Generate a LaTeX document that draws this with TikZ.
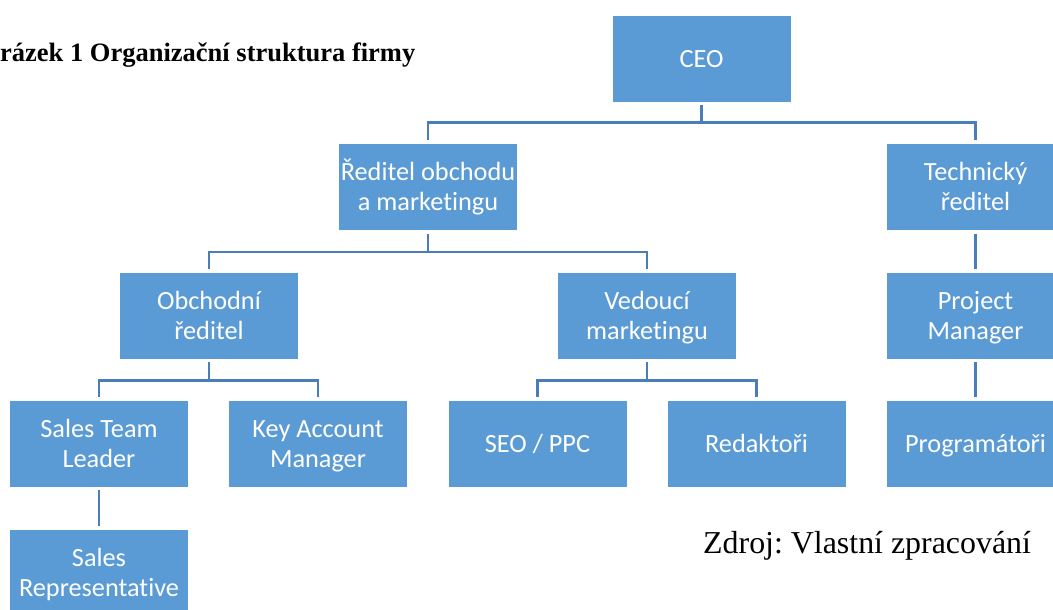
\documentclass[tikz,border=0pt]{standalone}
\usepackage{fontspec}
\setmainfont{Liberation Serif}
\newfontfamily\boxfont[Ligatures={NoCommon}]{Carlito}
\definecolor{boxblue}{HTML}{5B9BD5}
\definecolor{linkblue}{HTML}{4A7EBB}
\newcommand{\lnstrut}{\vphantom{Ág}}
\frenchspacing
\begin{document}
\begin{tikzpicture}[x=1pt,y=-1pt,
  orgbox/.style={rectangle, fill=boxblue, draw=white, line width=0.8pt,
    minimum width=179pt, minimum height=87pt, inner sep=0pt, text=white,
    align=center, font=\boxfont\fontsize{26.3}{30}\selectfont},
  conn/.style={draw=linkblue, line width=2.4pt, shorten <=3pt, shorten >=3pt},
  caption/.style={anchor=base west, inner sep=0pt, text=black}]
\useasboundingbox (0,0) rectangle (1053,610);

\node[orgbox] (ceo)  at (701.5,58.5) {\lnstrut CEO};
\node[orgbox] (red)  at (428,187) {\lnstrut Ředitel obchodu\\\lnstrut a marketingu};
\node[orgbox] (tech) at (975.5,187) {\lnstrut Technický\\\lnstrut ředitel};
\node[orgbox] (obch) at (209,315.5) {\lnstrut Obchodní\\\lnstrut ředitel};
\node[orgbox] (ved)  at (647,315.5) {\lnstrut Vedoucí\\\lnstrut marketingu};
\node[orgbox] (pm)   at (975.5,315.5) {\lnstrut Project\\\lnstrut Manager};
\node[orgbox] (stl)  at (99,443.5) {\lnstrut Sales Team\\\lnstrut Leader};
\node[orgbox] (kam)  at (318,443.5) {\lnstrut Key Account\\\lnstrut Manager};
\node[orgbox] (seo)  at (537.5,443.5) {\lnstrut SEO / PPC};
\node[orgbox] (redk) at (756.5,443.5) {\lnstrut Redaktoři};
\node[orgbox] (prog) at (975.5,443.5) {\lnstrut Programátoři};
\node[orgbox] (srep) at (99,572.5) {\lnstrut Sales\\\lnstrut Representative};

\draw[conn] (ceo.south) -- ++(0,20) -| (red.north);
\draw[conn] (ceo.south) -- ++(0,20) -| (tech.north);
\draw[conn] (red.south) -- ++(0,21) -| (obch.north);
\draw[conn] (red.south) -- ++(0,21) -| (ved.north);
\draw[conn] (tech.south) -- (pm.north);
\draw[conn] (obch.south) -- ++(0,21) -| (stl.north);
\draw[conn] (obch.south) -- ++(0,21) -| (kam.north);
\draw[conn] (ved.south) -- ++(0,21) -| (seo.north);
\draw[conn] (ved.south) -- ++(0,21) -| (redk.north);
\draw[conn] (pm.south) -- (prog.north);
\draw[conn] (stl.south) -- (srep.north);

\node[caption, font=\bfseries\fontsize{26.5}{30}\selectfont] (title) at (0,62) {rázek 1 Organizační struktura firmy};
\node[caption, font=\fontsize{31.9}{36}\selectfont] (source) at (703,553) {Zdroj: Vlastní zpracování};
\end{tikzpicture}
\end{document}
